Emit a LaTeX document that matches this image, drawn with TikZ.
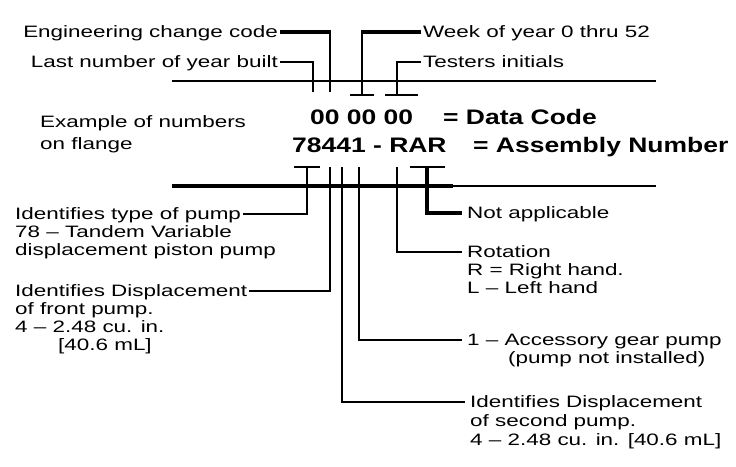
\documentclass[tikz,border=0pt]{standalone}
\usepackage{fontspec}
\newfontfamily\lblfont[FakeStretch=1.36]{Liberation Sans}
\newfontfamily\codefont[FakeStretch=1.26]{Liberation Sans}
\tikzset{
  lbl/.style={font=\lblfont\fontsize{16.5}{18}\selectfont, inner sep=0pt, text height=11.8pt, text depth=0pt},
  code/.style={font=\codefont\bfseries\fontsize{21}{24}\selectfont, inner sep=0pt, text height=15pt, text depth=0pt},
  wire/.style={line width=1.5pt},
  heavy/.style={line width=3.2pt},
  rule/.style={line width=2pt},
}
\begin{document}
\begin{tikzpicture}[x=1pt,y=-1pt]
\useasboundingbox (0,0) rectangle (736,466);
\fill[white] (0,0) rectangle (736,466);

% ---- top labels
\node[lbl, anchor=east] (eng) at (278,32) {Engineering change code};
\node[lbl, anchor=east] (last) at (278,62) {Last number of year built};
\node[lbl, anchor=west] (week) at (423,32) {Week of year 0 thru 52};
\node[lbl, anchor=west] (test) at (423,62) {Testers initials};

% ---- middle
\node[lbl, anchor=west] (ex1) at (40,122) {Example of numbers};
\node[lbl, anchor=west] (ex2) at (40,144) {on flange};
\node[code, anchor=west] (dc) at (310,117) {00 00 00};
\node[code, anchor=west] (dcl) at (443,117) {= Data Code};
\node[code, anchor=west] (an) at (292,145) {78441 - RAR};
\node[code, anchor=west] (anl) at (473,145) {= Assembly Number};

% ---- left bottom labels
\node[lbl, anchor=west] (typeA) at (15,214) {Identifies type of pump};
\node[lbl, anchor=west] (typeB) at (15,232) {78 – Tandem Variable};
\node[lbl, anchor=west] (typeC) at (15,250) {displacement piston pump};
\node[lbl, anchor=west] (frA) at (15,291) {Identifies Displacement};
\node[lbl, anchor=west] (frB) at (15,309) {of front pump.};
\node[lbl, anchor=west] (frC) at (15,327) {4 – 2.48 cu. in.};
\node[lbl, anchor=west] (frD) at (58,345) {[40.6 mL]};

% ---- right bottom labels
\node[lbl, anchor=west] (na) at (467,213) {Not applicable};
\node[lbl, anchor=west] (rotA) at (467,252) {Rotation};
\node[lbl, anchor=west] (rotB) at (467,270) {R = Right hand.};
\node[lbl, anchor=west] (rotC) at (467,288) {L – Left hand};
\node[lbl, anchor=west] (accA) at (467,340) {1 – Accessory gear pump};
\node[lbl, anchor=west] (accB) at (508,358) {(pump not installed)};
\node[lbl, anchor=west] (secA) at (470,402) {Identifies Displacement};
\node[lbl, anchor=west] (secB) at (470,421) {of second pump.};
\node[lbl, anchor=west] (secC) at (470,440) {4 – 2.48 cu. in. [40.6 mL]};

% ---- rules
\coordinate (tl1) at (172,81);  \coordinate (tl2) at (656,81);
\coordinate (bl1) at (172,186); \coordinate (bl2) at (453,186); \coordinate (bl3) at (656,186);
\draw[rule] (tl1) -- (tl2);
\draw[heavy] (bl1) -- (bl2);
\draw[wire] (bl2) -- (bl3);

% ---- top connectors
\coordinate (eTop) at (330,32);  \coordinate (eBot) at (330,92);
\draw[heavy] ([xshift=2pt]eng.east) -- ([xshift=0.75pt]eTop);
\draw[wire] (eTop) -- (eBot);
\coordinate (lTop) at (313,62);  \coordinate (lBot) at (313,92);
\draw[wire] ([xshift=2pt]last.east) -- (lTop) -- (lBot);
\coordinate (wTop) at (362,32);  \coordinate (wBot) at (362,95);
\coordinate (wL) at (350,95);    \coordinate (wR) at (374,95);
\draw[heavy] ([xshift=-2pt]week.west) -- ([xshift=-0.75pt]wTop);
\draw[wire] (wTop) -- (wBot);
\draw[wire] (wL) -- (wR);
\coordinate (tTop) at (397,62);  \coordinate (tBot) at (397,95);
\coordinate (tL) at (385,95);    \coordinate (tR) at (418,95);
\draw[wire] ([xshift=-2pt]test.west) -- (tTop) -- (tBot);
\draw[wire] (tL) -- (tR);

% ---- bottom connectors
\coordinate (pL) at (294,167); \coordinate (pR) at (320,167);
\coordinate (pTop) at (307,167); \coordinate (pK) at (307,214);
\draw[wire] (pL) -- (pR);
\draw[wire] (pTop) -- (pK) -- ([xshift=2pt]typeA.east |- pK);
\coordinate (fTop) at (330,167); \coordinate (fK) at (330,291);
\draw[wire] (fTop) -- (fK) -- ([xshift=2pt]frA.east |- fK);
\coordinate (sTop) at (342,167); \coordinate (sK) at (342,402);
\draw[wire] (sTop) -- (sK) -- ([xshift=-5pt]secA.west);
\coordinate (aTop) at (359,167); \coordinate (aK) at (359,340);
\draw[wire] (aTop) -- (aK) -- ([xshift=-5pt]accA.west);
\coordinate (rTop) at (397,167); \coordinate (rK) at (397,252);
\draw[wire] (rTop) -- (rK) -- ([xshift=-5pt]rotA.west);
\coordinate (nL) at (410,167); \coordinate (nR) at (445,167);
\coordinate (nTop) at (427,167); \coordinate (nK) at (427,213);
\draw[wire] (nL) -- (nR);
\draw[heavy] (nTop) -- (nK) -- ([xshift=-5pt]na.west);
\end{tikzpicture}
\end{document}
